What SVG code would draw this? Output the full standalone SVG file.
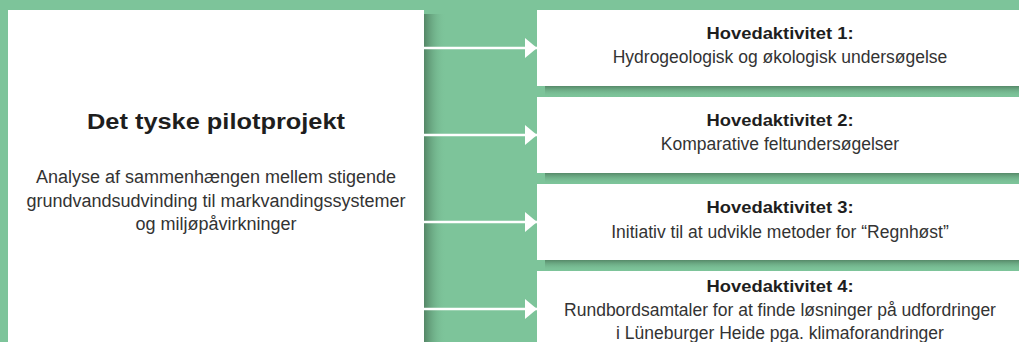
<svg xmlns="http://www.w3.org/2000/svg" width="1019" height="342" viewBox="0 0 1019 342">
<style>
.box{fill:#ffffff}
.t{font-family:"Liberation Sans",Arial,sans-serif;text-anchor:middle}
.h{font-size:17px;font-weight:bold;fill:#1e1e1e}
.s{font-size:17.5px;fill:#333333}
.big{font-size:22.5px;font-weight:bold;fill:#1e1e1e}
.d{font-size:18px;fill:#333333}
.conn line{stroke:#ffffff;stroke-width:2.5}
</style>
<defs>
<linearGradient id="sr" x1="0" y1="0" x2="1" y2="0">
<stop offset="0" stop-color="#4f7f60" stop-opacity="0.9"/>
<stop offset="1" stop-color="#7dc49a" stop-opacity="0"/>
</linearGradient>
<linearGradient id="sb" x1="0" y1="0" x2="0" y2="1">
<stop offset="0" stop-color="#4f7f60" stop-opacity="0.85"/>
<stop offset="1" stop-color="#7dc49a" stop-opacity="0"/>
</linearGradient>
<marker id="ah" viewBox="0 0 12 20" refX="12" refY="10" markerWidth="12" markerHeight="20" markerUnits="userSpaceOnUse" orient="auto">
<path d="M0,0 L12,10 L0,20 Z" fill="#ffffff"/>
</marker>
</defs>
<rect x="0" y="0" width="1019" height="342" fill="#7dc49a"/>
<g id="shadows">
<rect x="424" y="14" width="22" height="328" fill="url(#sr)"/>
<rect x="545" y="86" width="474" height="11" fill="url(#sb)"/>
<rect x="545" y="173" width="474" height="11" fill="url(#sb)"/>
<rect x="545" y="260" width="474" height="11" fill="url(#sb)"/>
</g>
<g id="main">
<rect class="box" x="8" y="10" width="416" height="332"/>
<text class="t big" x="216" y="129" textLength="258" lengthAdjust="spacingAndGlyphs">Det tyske pilotprojekt</text>
<text class="t d" x="216" y="183">Analyse af sammenhængen mellem stigende</text>
<text class="t d" x="216" y="207">grundvandsudvinding til markvandingssystemer</text>
<text class="t d" x="216" y="230">og miljøpåvirkninger</text>
</g>
<g id="a1">
<rect class="box" x="537" y="10" width="482" height="76"/>
<text class="t h" x="780" y="39" textLength="147" lengthAdjust="spacingAndGlyphs">Hovedaktivitet 1:</text>
<text class="t s" x="780" y="63">Hydrogeologisk og økologisk undersøgelse</text>
</g>
<g id="a2">
<rect class="box" x="537" y="97" width="482" height="76"/>
<text class="t h" x="780" y="126" textLength="147" lengthAdjust="spacingAndGlyphs">Hovedaktivitet 2:</text>
<text class="t s" x="780" y="150">Komparative feltundersøgelser</text>
</g>
<g id="a3">
<rect class="box" x="537" y="184" width="482" height="76"/>
<text class="t h" x="780" y="213" textLength="147" lengthAdjust="spacingAndGlyphs">Hovedaktivitet 3:</text>
<text class="t s" x="780" y="238">Initiativ til at udvikle metoder for “Regnhøst”</text>
</g>
<g id="a4">
<rect class="box" x="537" y="271" width="482" height="71"/>
<text class="t h" x="780" y="292" textLength="147" lengthAdjust="spacingAndGlyphs">Hovedaktivitet 4:</text>
<text class="t s" x="780" y="316">Rundbordsamtaler for at finde løsninger på udfordringer</text>
<text class="t s" x="780" y="339">i Lüneburger Heide pga. klimaforandringer</text>
</g>
<g class="conn" id="connectors">
<line x1="424" y1="48" x2="537" y2="48" marker-end="url(#ah)"/>
<line x1="424" y1="135" x2="537" y2="135" marker-end="url(#ah)"/>
<line x1="424" y1="222" x2="537" y2="222" marker-end="url(#ah)"/>
<line x1="424" y1="309" x2="537" y2="309" marker-end="url(#ah)"/>
</g>
</svg>
